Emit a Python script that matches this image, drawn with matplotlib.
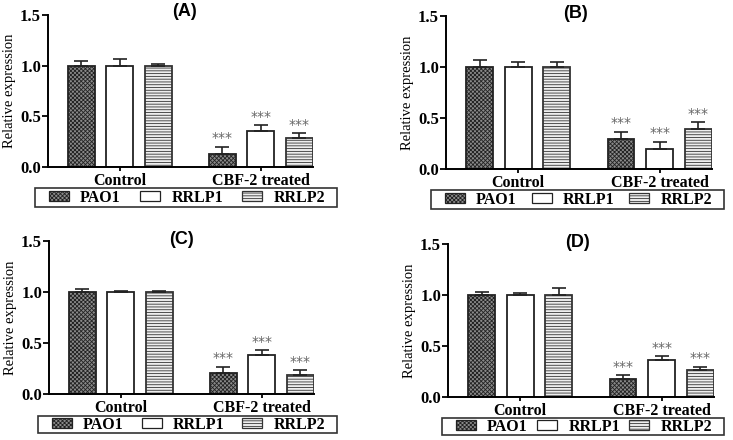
import matplotlib
matplotlib.use("Agg")
import matplotlib.pyplot as plt
from matplotlib.patches import Patch, Rectangle
import numpy as np

plt.rcParams['hatch.linewidth'] = 0.6

groups = ["Control", "CBF-2 treated"]
series = ["PAO1", "RRLP1", "RRLP2"]
panels = ["(A)", "(B)", "(C)", "(D)"]

# values[panel][series] -> [control, CBF-2 treated]
means_A = {"PAO1": [1.0, 0.13], "RRLP1": [1.0, 0.36], "RRLP2": [1.0, 0.285]}
errs_A = {"PAO1": [0.05, 0.07], "RRLP1": [0.07, 0.05], "RRLP2": [0.02, 0.05]}
means_B = {"PAO1": [1.0, 0.295], "RRLP1": [1.0, 0.195], "RRLP2": [1.0, 0.39]}
errs_B = {"PAO1": [0.065, 0.07], "RRLP1": [0.045, 0.07], "RRLP2": [0.045, 0.07]}
means_C = {"PAO1": [1.0, 0.21], "RRLP1": [1.0, 0.38], "RRLP2": [1.0, 0.183]}
errs_C = {"PAO1": [0.025, 0.055], "RRLP1": [0.012, 0.05], "RRLP2": [0.012, 0.05]}
means_D = {"PAO1": [1.0, 0.177], "RRLP1": [1.0, 0.367], "RRLP2": [1.0, 0.265]}
errs_D = {"PAO1": [0.03, 0.035], "RRLP1": [0.015, 0.033], "RRLP2": [0.07, 0.03]}
yticks = [0.0, 0.5, 1.0, 1.5]
sig_label = "***"

all_means = [means_A, means_B, means_C, means_D]
all_errs = [errs_A, errs_B, errs_C, errs_D]

styles = {
    "PAO1": dict(facecolor="#8a8a8a", hatch="xxxxxxxx", edgecolor="#222222"),
    "RRLP1": dict(facecolor="white", hatch="", edgecolor="#222222"),
    "RRLP2": dict(facecolor="#eeeeee", hatch="------", edgecolor="#333333"),
}

W, H = 733, 440
fig = plt.figure(figsize=(W / 100, H / 100), dpi=100)

# pixel boxes: (left, right, top(y of 1.5), bottom(y of 0))
axes_px = [(48, 313, 15, 167), (446, 712, 16, 169), (49, 314, 241, 394), (448, 714, 244, 397)]
legend_px = [(35, 337, 188, 207), (431, 724, 190, 209), (38, 337, 416, 433), (442, 724, 418, 435)]
title_px = [(184, 12), (576, 14), (182, 240), (578, 242)]

serif = "Liberation Serif"
offs = [-0.273, 0.0, 0.273]
bw = 0.19

for k in range(4):
    l, r, t, b = axes_px[k]
    ax = fig.add_axes([l / W, 1 - b / H, (r - l) / W, (b - t) / H])
    x = np.arange(len(groups))
    for i, s in enumerate(series):
        st = styles[s]
        ax.bar(x + offs[i], all_means[k][s], width=bw, facecolor=st["facecolor"],
               edgecolor=st["edgecolor"], hatch=st["hatch"], linewidth=1.3, zorder=2)
        m = np.array(all_means[k][s])
        e = np.array(all_errs[k][s])
        ax.errorbar(x + offs[i], m, yerr=[np.zeros_like(e), e], fmt="none",
                    ecolor="#222222", elinewidth=1.2, capsize=5, capthick=1.2, zorder=3)
        ax.text(x[1] + offs[i], m[1] + e[1] + 0.015, sig_label, ha="center", va="bottom",
                fontsize=10, color="#666666", family="DejaVu Sans")
    ax.set_ylim(0, 1.5)
    ax.set_xlim(-0.51, 1.37)
    ax.set_yticks(yticks)
    ax.set_yticklabels([f"{v:.1f}" for v in yticks], family=serif, fontweight="bold", fontsize=12)
    ax.set_xticks(x)
    ax.set_xticklabels(groups, family=serif, fontweight="bold", fontsize=11.5)
    ax.tick_params(axis="x", length=3, width=1.3, pad=1)
    ax.tick_params(axis="y", length=4, width=1.3, pad=1)
    for sp in ["top", "right"]:
        ax.spines[sp].set_visible(False)
    for sp in ["left", "bottom"]:
        ax.spines[sp].set_linewidth(1.4)
    ax.set_ylabel("Relative expression", family=serif, fontsize=10.5, labelpad=3)
    tx, ty = title_px[k]
    fig.text(tx / W, 1 - ty / H, panels[k], fontweight="bold", fontsize=13,
             family="Liberation Sans", ha="center", va="center")

    ll, lr, lt, lb = legend_px[k]
    fig.add_artist(Rectangle((ll / W, 1 - lb / H), (lr - ll) / W, (lb - lt) / H,
                             transform=fig.transFigure, fill=False,
                             edgecolor="#333333", linewidth=1.2))
    handles = [Patch(facecolor=styles[s]["facecolor"], edgecolor=styles[s]["edgecolor"],
                     hatch=styles[s]["hatch"], linewidth=0.9) for s in series]
    il = ll + 14
    ir = lr - 12
    leg = ax.legend(handles, series, ncol=3, loc="center", mode="expand",
                    bbox_to_anchor=(il / W, 1 - lb / H, (ir - il) / W, (lb - lt) / H),
                    bbox_transform=fig.transFigure, frameon=False,
                    borderpad=0.0, handlelength=1.25, handleheight=0.65, columnspacing=1.0,
                    handletextpad=0.7,
                    prop={"family": serif, "weight": "bold", "size": 11.5}, borderaxespad=0)

fig.savefig("out.png", dpi=100)
